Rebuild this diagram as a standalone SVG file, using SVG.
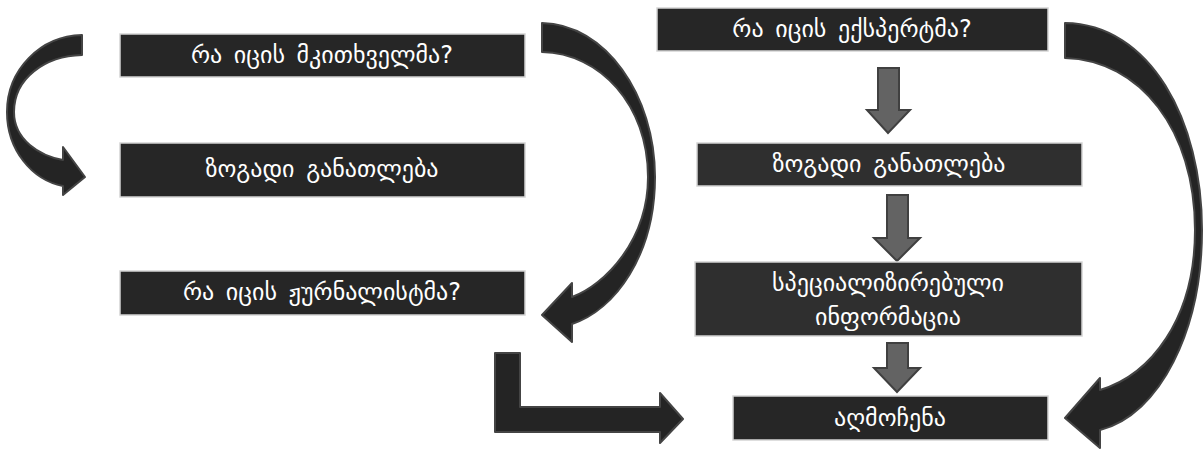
<svg xmlns="http://www.w3.org/2000/svg" width="1204" height="449" viewBox="0 0 1204 449">
<style>
.box{fill:#262626;stroke:#d4d4d4;stroke-width:1.5}
.box2{fill:#2f2f2f;stroke:#d4d4d4;stroke-width:1.5}
.lbl{fill:#ffffff;font-family:"DejaVu Sans",sans-serif;font-size:24px;word-spacing:4px;text-anchor:middle;dominant-baseline:central}
.curve{fill:#242424;stroke:#444444;stroke-width:2;stroke-linejoin:round}
.down{fill:#636363;stroke:#404040;stroke-width:2;stroke-linejoin:miter}
</style>
<rect width="1204" height="449" fill="#ffffff"/>
<g id="connectors">
<path class="curve" d="M82,35 C40,36 7,70 7,112 C7,150 32,180 63,186 L63,195 L85,177 L63,147 L63,160 C40,156 14,140 14,112 C14,78 45,56 82,55 Z"/>
<path class="curve" d="M542,23 C605,24 655,95 655,177 C655,255 615,310 572,324 L572,342 L542,315 L572,283 L572,297 C605,285 648,240 648,177 C648,105 600,53 542,52 Z"/>
<path class="curve" d="M1065,23 C1150,24 1202,120 1202,230 C1202,330 1160,415 1100,430 L1100,448 L1065,418 L1100,378 L1100,390 C1150,375 1195,320 1195,230 C1195,130 1140,60 1065,58 Z"/>
<path class="curve" d="M495,353 L520,353 L520,407 L660,407 L660,393 L683,419 L660,443 L660,432 L495,432 Z"/>
<path class="down" d="M878,68 L899,68 L899,110 L910,110 L888,133 L867,110 L878,110 Z"/>
<path class="down" d="M887,195 L908,195 L908,238 L920,238 L897,261 L874,238 L887,238 Z"/>
<path class="down" d="M887,343 L908,343 L908,368 L920,368 L897,392 L874,368 L887,368 Z"/>
</g>
<g id="n1"><rect class="box" x="120" y="34" width="405" height="43"/><text class="lbl" x="322" y="55">რა იცის მკითხველმა?</text></g>
<g id="n2"><rect class="box" x="120" y="143" width="405" height="54"/><text class="lbl" x="322" y="169">ზოგადი განათლება</text></g>
<g id="n3"><rect class="box" x="120" y="271" width="405" height="44"/><text class="lbl" x="322" y="292">რა იცის ჟურნალისტმა?</text></g>
<g id="n4"><rect class="box" x="657" y="8" width="391" height="43"/><text class="lbl" x="852" y="29">რა იცის ექსპერტმა?</text></g>
<g id="n5"><rect class="box2" x="697" y="143" width="385" height="43"/><text class="lbl" x="889" y="164">ზოგადი განათლება</text></g>
<g id="n6"><rect class="box2" x="695" y="262" width="387" height="74"/><text class="lbl" x="888" y="283">სპეციალიზირებული</text><text class="lbl" x="888" y="317">ინფორმაცია</text></g>
<g id="n7"><rect class="box" x="733" y="396" width="315" height="44"/><text class="lbl" x="890" y="418">აღმოჩენა</text></g>
</svg>
